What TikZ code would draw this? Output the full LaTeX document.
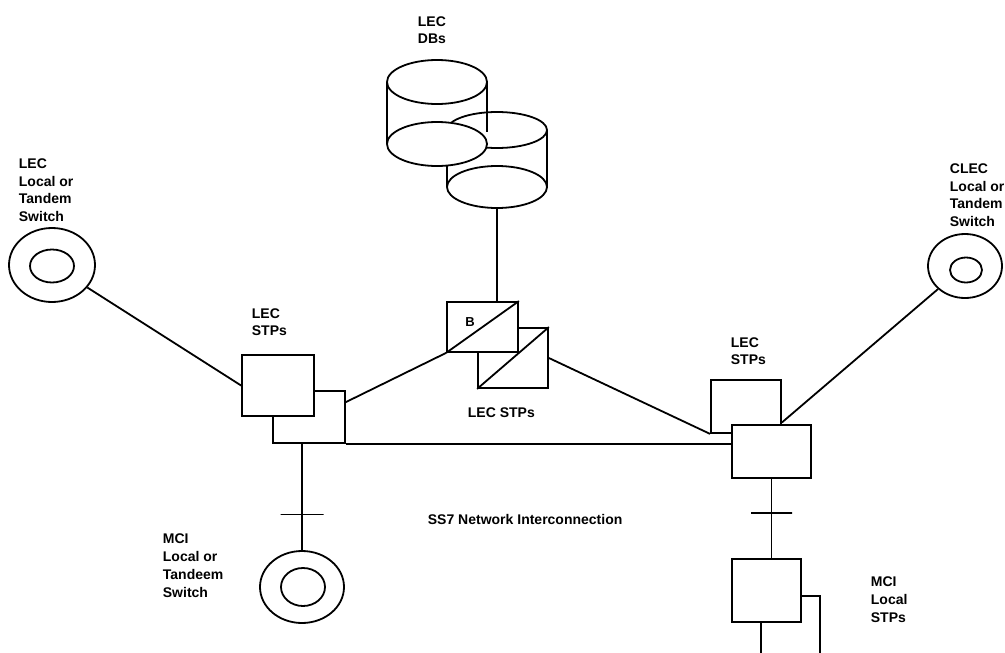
\documentclass[tikz,border=0pt]{standalone}
\usepackage{fontspec}
\setmainfont{Liberation Sans}
\usetikzlibrary{shapes.geometric,calc}
\begin{document}
\begin{tikzpicture}[x=1pt,y=-1pt,
  line width=1.8pt,
  lbl/.style={font=\bfseries\fontsize{14}{17.5}\selectfont, inner sep=0pt, anchor=north west, align=left},
  lbltwo/.style={lbl, font=\bfseries\fontsize{14}{16.5}\selectfont},
  stpbox/.style={draw, fill=white, rectangle, inner sep=0pt},
  swring/.style={draw, ellipse, inner sep=0pt},
  tickmark/.style={draw, rectangle, inner sep=0pt, minimum height=0pt, minimum width=43pt, line width=1.4pt},
]
\useasboundingbox (0,0) rectangle (1005,653);

% ---------- LEC DBs (two cylinders) ----------
\draw (437,82) ellipse [x radius=50, y radius=22];
\draw (387,82) -- (387,144);
\draw (487,82) -- (487,132);
\draw (497,130) ellipse [x radius=50, y radius=18];
\draw[fill=white] (437,144) ellipse [x radius=50, y radius=22];
\draw (447,166) -- (447,187);
\draw (547,130) -- (547,187);
\draw (497,187) ellipse [x radius=50, y radius=21];
\coordinate (dbout) at (497,208);
\node[lbltwo] (dblbl) at (417,16) {LEC\\DBs};

% ---------- left LEC switch ----------
\node[swring, minimum width=86pt, minimum height=74pt] (lsw) at (52,265) {};
\node[swring, minimum width=44pt, minimum height=33pt] (lswi) at (52,266) {};
\node[lbl] (lswlbl) at (18,158) {LEC\\Local or\\Tandem\\Switch};

% ---------- left LEC STPs ----------
\node[stpbox, minimum width=72pt, minimum height=52pt] (lsm) at (309,417) {};
\node[stpbox, minimum width=72pt, minimum height=61pt] (lbig) at (278,385.5) {};
\node[lbltwo] (lstplbl) at (251,308) {LEC\\STPs};

% ---------- middle LEC STPs (B pair) ----------
\node[stpbox, minimum width=70pt, minimum height=60pt] (bb2) at (513,358) {};
\draw (bb2.south west) -- (bb2.north east);
\node[stpbox, minimum width=71pt, minimum height=50pt] (bb1) at (482.5,327) {};
\draw (bb1.south west) -- (bb1.north east);
\node[font=\bfseries\fontsize{13}{15}\selectfont, inner sep=0pt] (blbl) at (470,322) {B};
\node[lbl] (mstplbl) at (467,407) {LEC STPs};

% ---------- right LEC STPs ----------
\node[stpbox, minimum width=70pt, minimum height=53pt] (rbig) at (746,406.5) {};
\node[stpbox, minimum width=79pt, minimum height=53pt] (rsm) at (771.5,451.5) {};
\node[lbltwo] (rstplbl) at (730,337) {LEC\\STPs};

% ---------- CLEC switch ----------
\node[swring, minimum width=74pt, minimum height=64pt] (csw) at (965,266) {};
\node[swring, minimum width=32pt, minimum height=25pt] (cswi) at (966,270) {};
\node[lbl] (cswlbl) at (949,163) {CLEC\\Local or\\Tandem\\Switch};

% ---------- MCI switch ----------
\node[swring, minimum width=84pt, minimum height=72pt] (msw) at (302,587) {};
\node[swring, minimum width=44pt, minimum height=38pt] (mswi) at (303,587) {};
\node[lbl, font=\bfseries\fontsize{14}{18}\selectfont] (mswlbl) at (162,533) {MCI\\Local or\\Tandeem\\Switch};

% ---------- MCI local STPs ----------
\node[stpbox, minimum width=69pt, minimum height=63pt] (mbox) at (766.5,590.5) {};
\node[lbl, font=\bfseries\fontsize{14}{18}\selectfont] (mstp) at (870,576) {MCI\\Local\\STPs};
\coordinate (mexitA) at (820,653);
\coordinate (mexitB) at (761,653);

% ---------- caption ----------
\node[lbl] (ss7) at (427,513) {SS7 Network Interconnection};

% ---------- connectors ----------
\draw (dbout) -- (dbout |- bb1.north);
\draw (lsw) -- (lbig.west);
\draw (lsm.22.6) -- (bb1.south west);
\draw (bb2.east) -- (rbig.south west);
\draw (csw) -- (rbig.-24);
\draw (lsm.south east) -- (lsm.south east -| rsm.west);
\draw (lsm.south -| msw.north) -- node[tickmark, pos=0.667] {} (msw.north);
\draw (rsm.south) -- node[tickmark, minimum width=41pt, pos=0.43] {} (rsm.south |- mbox.north);
\draw (mbox.-9) -| (mexitA);
\draw (mbox.south -| mexitB) -- (mexitB);
\end{tikzpicture}
\end{document}
